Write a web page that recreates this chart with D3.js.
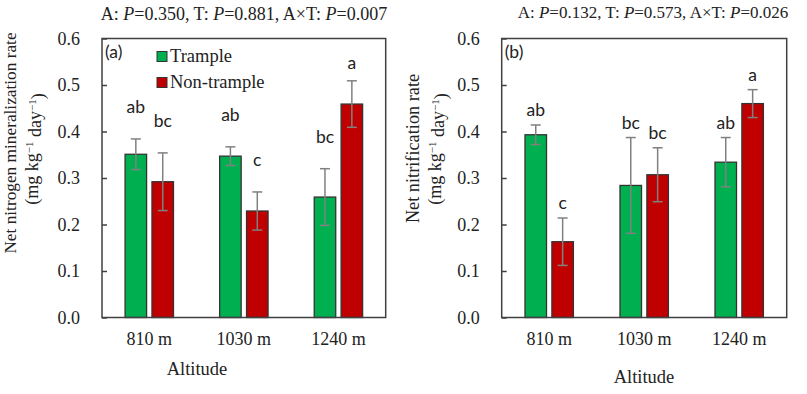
<!DOCTYPE html>
<html>
<head>
<meta charset="utf-8">
<script src="https://cdn.jsdelivr.net/npm/d3@7"></script>
<style>
  body { margin: 0; background: #fff; }
  svg text { font-family: "Liberation Serif", "Times New Roman", serif; fill: #222; }
  .sans { font-family: Lato, "Open Sans", sans-serif !important; }
</style>
</head>
<body>
<div id="chart"></div>
<script>
var width = 807;
var height = 394;

// data
var altitudes = ["810 m", "1030 m", "1240 m"];
var series = ["Trample", "Non-trample"];
var seriesColors = ["#00b050", "#c00000"];

var minTrample = [0.351, 0.347, 0.259];
var minTrampleErr = [0.033, 0.020, 0.061];
var minNonTrample = [0.292, 0.229, 0.459];
var minNonTrampleErr = [0.062, 0.041, 0.050];
var minTrampleLetters = ["ab", "ab", "bc"];
var minNonTrampleLetters = ["bc", "c", "a"];

var nitTrample = [0.393, 0.284, 0.334];
var nitTrampleErr = [0.021, 0.103, 0.053];
var nitNonTrample = [0.163, 0.307, 0.460];
var nitNonTrampleErr = [0.051, 0.058, 0.030];
var nitTrampleLetters = ["ab", "bc", "ab"];
var nitNonTrampleLetters = ["c", "bc", "a"];

var yTicks = [0, 0.1, 0.2, 0.3, 0.4, 0.5, 0.6];

function rows(vals1, errs1, lets1, vals2, errs2, lets2) {
  var out = [];
  altitudes.forEach(function(a, i) {
    out.push({alt: a, s: series[0], v: vals1[i], e: errs1[i], l: lets1[i]});
    out.push({alt: a, s: series[1], v: vals2[i], e: errs2[i], l: lets2[i]});
  });
  return out;
}

var panels = [
  {
    left: 102, right: 385.7, tag: "(a)",
    title: "0.350|0.881|0.007", titleX: 244, titleY: 20, titleSize: 18,
    yTitle: "Net nitrogen mineralization rate", yTitleSize: 17.3,
    y1X: 16, y1C: 143, y2X: 38, y2C: 149,
    xLabelX: 197, xLabelY: 375,
    letterGap: 26, legend: true,
    data: rows(minTrample, minTrampleErr, minTrampleLetters, minNonTrample, minNonTrampleErr, minNonTrampleLetters)
  },
  {
    left: 501.7, right: 786.7, tag: "(b)",
    title: "0.132|0.573|0.026", titleX: 653, titleY: 17.5, titleSize: 17,
    yTitle: "Net nitrification rate", yTitleSize: 18.3,
    y1X: 419, y1C: 148.5, y2X: 441, y2C: 149,
    xLabelX: 644, xLabelY: 382.5,
    letterGap: 9, legend: false,
    data: rows(nitTrample, nitTrampleErr, nitTrampleLetters, nitNonTrample, nitNonTrampleErr, nitNonTrampleLetters)
  }
];

var plotTop = 38.5, plotBottom = 317.5;
var yScale = d3.scaleLinear().domain([0, 0.6]).range([plotBottom, plotTop]);

var svg = d3.select("#chart").append("svg")
  .attr("width", width)
  .attr("height", height);

panels.forEach(function(p) {
  var x0 = d3.scaleBand().domain(altitudes).range([p.left, p.right]).padding(0);
  var bw = x0.bandwidth();
  var x1 = d3.scaleBand().domain(series)
    .range([bw / 2 - 24.2, bw / 2 + 24.2]).paddingInner(0.2);
  var color = d3.scaleOrdinal().domain(series).range(seriesColors);

  var g = svg.append("g");

  // title with italic P
  var pv = p.title.split("|");
  var t = g.append("text")
    .attr("x", p.titleX).attr("y", p.titleY)
    .attr("text-anchor", "middle")
    .style("font-size", p.titleSize + "px");
  t.append("tspan").text("A: ");
  t.append("tspan").style("font-style", "italic").text("P");
  t.append("tspan").text("=" + pv[0] + ", T: ");
  t.append("tspan").style("font-style", "italic").text("P");
  t.append("tspan").text("=" + pv[1] + ", A\u00d7T: ");
  t.append("tspan").style("font-style", "italic").text("P");
  t.append("tspan").text("=" + pv[2]);

  // bars
  g.selectAll("rect.bar")
    .data(p.data)
    .enter()
    .append("rect")
    .attr("class", "bar")
    .attr("x", function(d) { return x0(d.alt) + x1(d.s); })
    .attr("y", function(d) { return yScale(d.v); })
    .attr("width", x1.bandwidth())
    .attr("height", function(d) { return yScale(0) - yScale(d.v); })
    .attr("fill", function(d) { return color(d.s); })
    .attr("stroke", "#333")
    .attr("stroke-width", 1.3);

  // error bars
  var eb = g.selectAll("g.err")
    .data(p.data)
    .enter()
    .append("g")
    .attr("class", "err")
    .attr("transform", function(d) {
      return "translate(" + (x0(d.alt) + x1(d.s) + x1.bandwidth() / 2) + ",0)";
    });
  eb.append("line")
    .attr("y1", function(d) { return yScale(d.v + d.e); })
    .attr("y2", function(d) { return yScale(d.v - d.e); });
  eb.append("line")
    .attr("x1", -5).attr("x2", 5)
    .attr("y1", function(d) { return yScale(d.v + d.e); })
    .attr("y2", function(d) { return yScale(d.v + d.e); });
  eb.append("line")
    .attr("x1", -5).attr("x2", 5)
    .attr("y1", function(d) { return yScale(d.v - d.e); })
    .attr("y2", function(d) { return yScale(d.v - d.e); });
  eb.selectAll("line").attr("stroke", "#808080").attr("stroke-width", 1.5);

  // significance letters
  g.selectAll("text.letter")
    .data(p.data)
    .enter()
    .append("text")
    .attr("class", "letter sans")
    .attr("x", function(d) { return x0(d.alt) + x1(d.s) + x1.bandwidth() / 2; })
    .attr("y", function(d) {
      return Math.max(yScale(d.v + d.e) - p.letterGap, plotTop + 30);
    })
    .attr("text-anchor", "middle")
    .style("font-size", "17.5px")
    .text(function(d) { return d.l; });

  // frame
  g.append("rect")
    .attr("x", p.left).attr("y", plotTop)
    .attr("width", p.right - p.left).attr("height", plotBottom - plotTop)
    .attr("fill", "none")
    .attr("stroke", "#404040")
    .attr("stroke-width", 1.5);

  // y axis, ticks inside
  var yAxis = d3.axisLeft(yScale)
    .tickValues(yTicks)
    .tickFormat(d3.format(".1f"))
    .tickSizeInner(-5)
    .tickSizeOuter(0)
    .tickPadding(22);
  var ya = g.append("g")
    .attr("transform", "translate(" + p.left + ",0)")
    .call(yAxis);
  ya.select(".domain").remove();
  ya.selectAll("line").attr("stroke", "#404040").attr("stroke-width", 1.5);
  ya.selectAll("text")
    .attr("fill", "#222")
    .style("font-family", "Liberation Serif, serif")
    .style("font-size", "18px");

  // x axis labels
  var xAxis = d3.axisBottom(x0).tickSize(0).tickPadding(0);
  var xa = g.append("g")
    .attr("transform", "translate(0," + plotBottom + ")")
    .call(xAxis);
  xa.select(".domain").remove();
  xa.selectAll("text")
    .attr("y", 27.5).attr("dy", 0)
    .attr("fill", "#222")
    .style("font-family", "Liberation Serif, serif")
    .style("font-size", "18px");

  g.append("text")
    .attr("x", p.xLabelX).attr("y", p.xLabelY)
    .attr("text-anchor", "middle")
    .style("font-size", "18.5px")
    .text("Altitude");

  // y titles
  g.append("text")
    .attr("transform", "translate(" + p.y1X + "," + p.y1C + ") rotate(-90)")
    .attr("text-anchor", "middle")
    .style("font-size", p.yTitleSize + "px")
    .text(p.yTitle);
  var u = g.append("text")
    .attr("transform", "translate(" + p.y2X + "," + p.y2C + ") rotate(-90)")
    .attr("text-anchor", "middle")
    .style("font-size", "18px");
  u.append("tspan").text("(mg kg");
  u.append("tspan").attr("dy", "-0.45em").style("font-size", "11px").text("\u22121");
  u.append("tspan").attr("dy", "0.45em").text(" day");
  u.append("tspan").attr("dy", "-0.45em").style("font-size", "11px").text("\u22121");
  u.append("tspan").attr("dy", "0.45em").text(")");

  // panel tag
  g.append("text")
    .attr("class", "sans")
    .attr("x", p.left + 3).attr("y", plotTop + 19)
    .style("font-size", "17.5px")
    .text(p.tag);

  // legend
  if (p.legend) {
    var lg = g.selectAll("g.leg")
      .data(series)
      .enter()
      .append("g")
      .attr("class", "leg")
      .attr("transform", function(d, i) { return "translate(157," + (51.5 + i * 26) + ")"; });
    lg.append("rect")
      .attr("width", 10).attr("height", 10)
      .attr("fill", function(d) { return color(d); })
      .attr("stroke", "#333")
      .attr("stroke-width", 1);
    lg.append("text")
      .attr("x", 13).attr("y", 10.5)
      .style("font-size", "18.5px")
      .text(function(d) { return d; });
  }
});
</script>
</body>
</html>
